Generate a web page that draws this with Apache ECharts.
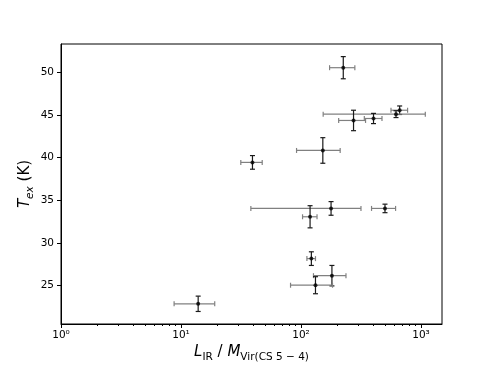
<!DOCTYPE html>
<html>
<head>
<meta charset="utf-8">
<script src="https://cdn.jsdelivr.net/npm/echarts@6/dist/echarts.min.js"></script>
<style>
  html, body { margin: 0; padding: 0; background: #fff; }
  #chart { width: 490px; height: 368px; }
</style>
</head>
<body>
<div id="chart"></div>
<script>
// L_IR / M_vir (x) with error range
const xVal = [225, 664, 619, 274, 402, 152, 39.4, 178, 501, 119, 122, 181, 132, 13.9];
const xLo  = [173, 562, 153, 206, 337, 91.8, 31.5, 38.2, 387, 103, 112, 127, 81.8, 8.76];
const xHi  = [281, 773, 1086, 345, 473, 212, 47.5, 316, 614, 136, 132, 237, 183, 19.1];
// T_ex (y) with symmetric error
const yVal = [50.55, 45.56, 45.1, 44.36, 44.59, 40.84, 39.44, 34.04, 34.04, 33.06, 28.15, 26.15, 25.03, 22.85];
const yErr = [1.3, 0.5, 0.4, 1.2, 0.6, 1.5, 0.8, 0.8, 0.5, 1.3, 0.8, 1.2, 1.0, 0.9];

// tick positions
const xMajor = [1, 10, 100, 1000];
const xMinor = [2, 3, 4, 5, 6, 7, 8, 9, 20, 30, 40, 50, 60, 70, 80, 90, 200, 300, 400, 500, 600, 700, 800, 900];
const yTicks = [25, 30, 35, 40, 45, 50];
const supers = { 1: '10⁰', 10: '10¹', 100: '10²', 1000: '10³' };

const chart = echarts.init(document.getElementById('chart'));
const font = 'DejaVu Sans';

const errData = xVal.map((x, i) => [x, yVal[i], xLo[i], xHi[i], yErr[i]]);
const ptData = xVal.map((x, i) => [x, yVal[i]]);

function renderErr(params, api) {
    const x = api.value(0), y = api.value(1), e = api.value(4);
    const l = api.coord([api.value(2), y]);
    const r = api.coord([api.value(3), y]);
    const t = api.coord([x, y + e]);
    const b = api.coord([x, y - e]);
    const c = 2.5;
    const h = { stroke: '#808080', lineWidth: 1.2 };
    const v = { stroke: '#1a1a1a', lineWidth: 1.2 };
    const line = (x1, y1, x2, y2, s) => ({ type: 'line', shape: { x1, y1, x2, y2 }, style: s });
    return {
        type: 'group',
        children: [
            line(l[0], l[1], r[0], r[1], h),
            line(l[0], l[1] - c, l[0], l[1] + c, h),
            line(r[0], r[1] - c, r[0], r[1] + c, h),
            line(t[0], t[1], b[0], b[1], v),
            line(t[0] - c, t[1], t[0] + c, t[1], v),
            line(b[0] - c, b[1], b[0] + c, b[1], v)
        ]
    };
}

const nameRich = {
    it: { fontStyle: 'italic', fontSize: 15, fontFamily: font, color: '#000', verticalAlign: 'top', lineHeight: 18 },
    n: { fontSize: 15, fontFamily: font, color: '#000', verticalAlign: 'top', lineHeight: 18 },
    sub: { fontSize: 10.5, fontFamily: font, color: '#000', verticalAlign: 'bottom', lineHeight: 18, padding: [6, 0, 0, 0] },
    isub: { fontStyle: 'italic', fontSize: 10.5, fontFamily: font, color: '#000', verticalAlign: 'bottom', lineHeight: 18, padding: [6, 0, 0, 0] }
};

const option = {
    backgroundColor: '#fff',
    animation: false,
    grid: {
        left: 61, right: 48, top: 44, bottom: 41,
        show: true, borderColor: '#000', borderWidth: 1, backgroundColor: 'transparent'
    },
    xAxis: [
        {
            type: 'log', logBase: 10, min: 1, max: 1496,
            splitLine: { show: false },
            axisLine: { show: true, lineStyle: { color: '#000', width: 1 } },
            axisTick: { show: true, inside: false, length: 4, customValues: xMajor, lineStyle: { color: '#000' } },
            axisLabel: {
                customValues: xMajor, margin: 6, color: '#000', fontFamily: font, fontSize: 10.5,
                formatter: v => supers[Math.round(v)] || ''
            },
            name: '{it|L}{sub|IR}{n| / }{it|M}{sub|Vir(CS 5 − 4)}',
            nameLocation: 'middle', nameGap: 21, nameMoveOverlap: false,
            nameTextStyle: { fontFamily: font, color: '#000', rich: nameRich }
        },
        {
            type: 'log', logBase: 10, min: 1, max: 1496, position: 'bottom',
            splitLine: { show: false },
            axisLine: { show: false },
            axisLabel: { show: false },
            axisTick: { show: true, length: 2, customValues: xMinor, lineStyle: { color: '#000' } }
        }
    ],
    yAxis: {
        type: 'value', min: 20.48, max: 53.33,
        splitLine: { show: false },
        axisLine: { show: true, lineStyle: { color: '#000', width: 1 } },
        axisTick: { show: true, length: 4, customValues: yTicks, lineStyle: { color: '#000' } },
        axisLabel: { customValues: yTicks, margin: 7, color: '#000', fontFamily: font, fontSize: 10.5 },
        name: '{it|T}{isub|ex}{n| (K)}',
        nameLocation: 'middle', nameGap: 25, nameRotate: 90, nameMoveOverlap: false,
        nameTextStyle: { fontFamily: font, color: '#000', rich: nameRich }
    },
    series: [
        {
            type: 'custom',
            xAxisIndex: 0,
            renderItem: renderErr,
            encode: { x: 0, y: 1 },
            data: errData,
            z: 2
        },
        {
            type: 'scatter',
            xAxisIndex: 0,
            symbol: 'circle',
            symbolSize: 4,
            itemStyle: { color: '#000' },
            data: ptData,
            z: 3
        }
    ]
};

chart.setOption(option);
</script>
</body>
</html>
